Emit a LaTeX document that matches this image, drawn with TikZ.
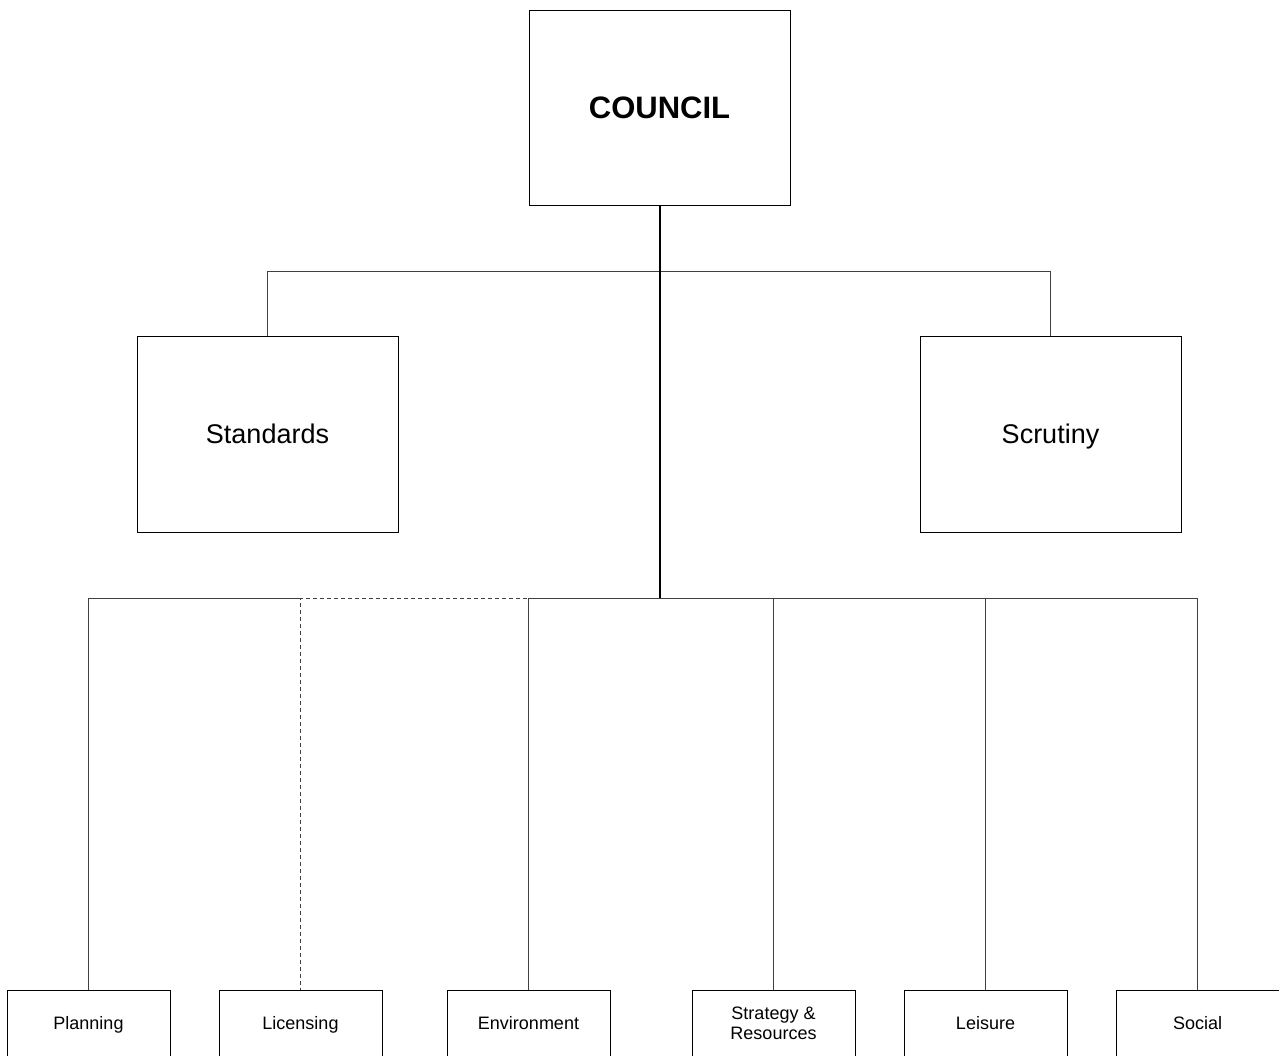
\documentclass[tikz,border=0pt]{standalone}
\usepackage{fontspec}
\setmainfont{Liberation Sans}
\begin{document}
\begin{tikzpicture}[x=1pt,y=-1pt,
  box/.style={draw=black,line width=1pt,fill=white,inner sep=0pt},
  oneline/.style={text depth=0pt},
  bigbox/.style={box,oneline,minimum width=261pt,minimum height=196pt},
  smallbox/.style={box,minimum width=163pt,minimum height=66pt,font=\fontsize{18}{20}\selectfont},
  conn/.style={draw=black!75,line width=1pt},
  trunk/.style={draw=black,line width=2pt},
  dconn/.style={draw=black!75,line width=1pt,dash pattern=on 4pt off 3pt}]
\useasboundingbox (0,0) rectangle (1279,1055);
\fill[white] (0,0) rectangle (1279,1055);

\coordinate (j1) at (660,271);
\coordinate (j2) at (660,598);
\coordinate (j3) at (301,598);

\node[bigbox,minimum height=195pt,font=\fontsize{31}{34}\selectfont\bfseries] (council) at (659.5,107.5) {COUNCIL};
\node[bigbox,font=\fontsize{27}{30}\selectfont] (standards) at (267.5,434) {Standards};
\node[bigbox,font=\fontsize{27}{30}\selectfont] (scrutiny) at (1050.5,434) {Scrutiny};

\node[smallbox,oneline] (planning) at (88.5,1023) {Planning};
\node[smallbox,oneline] (licensing) at (300.5,1023) {Licensing};
\node[smallbox,oneline] (environment) at (528.5,1023) {Environment};
\node[smallbox,align=center] (strategy) at (773.5,1023) {Strategy \&\\Resources};
\node[smallbox,oneline] (leisure) at (985.5,1023) {Leisure};
\node[smallbox,oneline] (social) at (1197.5,1023) {Social};

\draw[conn] (j1) -| (standards.north);
\draw[conn] (j1) -| (scrutiny.north);
\draw[conn] (j3) -| (planning.north);
\draw[conn] (j2) -| (environment.north);
\draw[dconn] (j2) -| (licensing.north);
\draw[conn] (j2) -| (strategy.north);
\draw[conn] (j2) -| (leisure.north);
\draw[conn] (j2) -| (social.north);
\draw[trunk] (j1|-council.south) -- (j1) -- (j2);
\end{tikzpicture}
\end{document}
